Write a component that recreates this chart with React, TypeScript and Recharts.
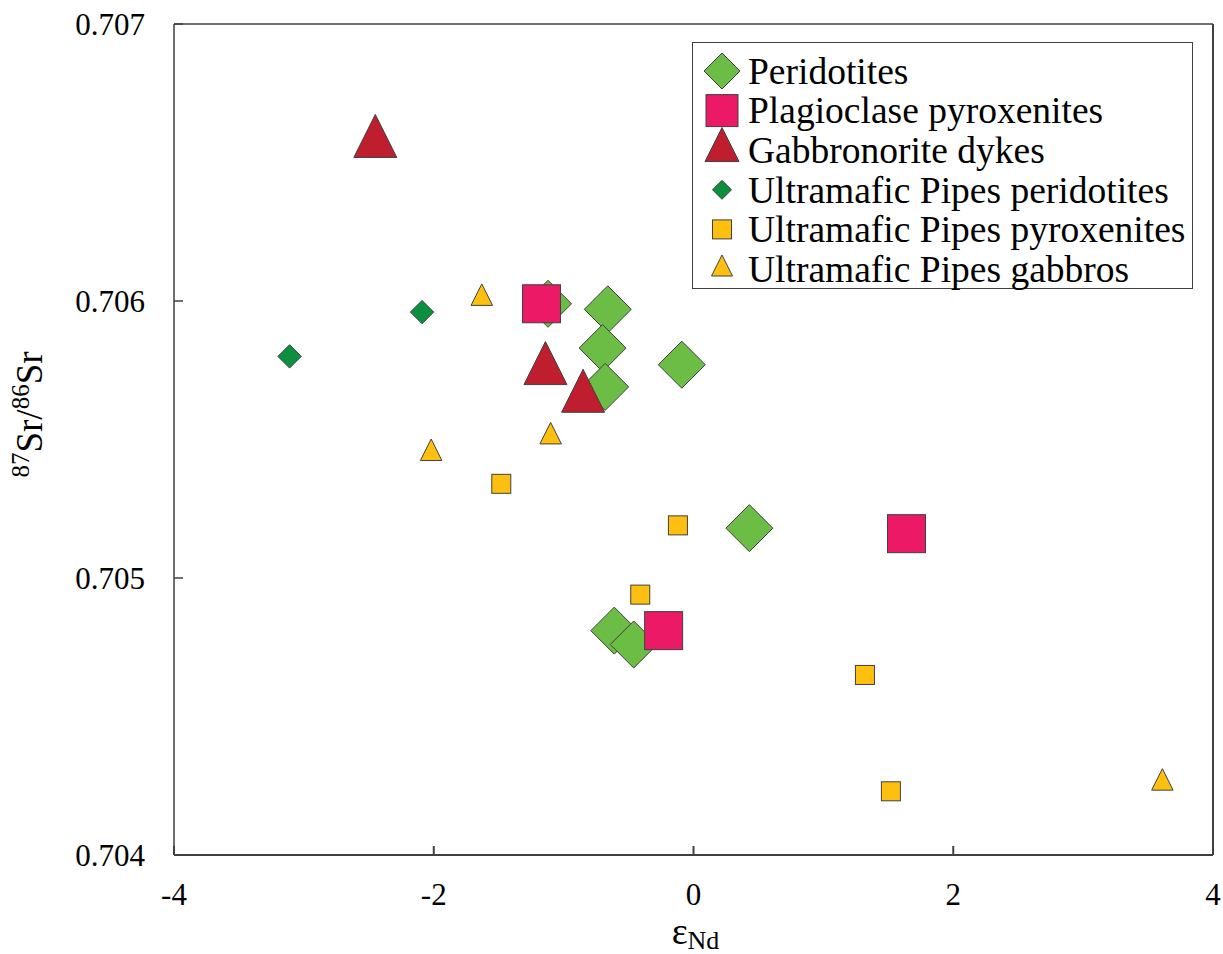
import React from "react";
import {
  ScatterChart,
  Scatter,
  XAxis,
  YAxis,
  ReferenceLine,
  Legend,
} from "recharts";

// εNd vs 87Sr/86Sr, one array per rock group
const peridotites = [
  { x: -1.12, y: 0.70599 },
  { x: -0.66, y: 0.70597 },
  { x: -0.7, y: 0.70583 },
  { x: -0.68, y: 0.70569 },
  { x: -0.09, y: 0.70577 },
  { x: 0.43, y: 0.70518 },
  { x: -0.61, y: 0.70481 },
  { x: -0.46, y: 0.70476 },
];

const plagPyroxenites = [
  { x: -1.17, y: 0.70599 },
  { x: -0.23, y: 0.70481 },
  { x: 1.64, y: 0.70516 },
];

const gabbronoriteDykes = [
  { x: -2.45, y: 0.70657 },
  { x: -1.14, y: 0.70575 },
  { x: -0.85, y: 0.70565 },
];

const upPeridotites = [
  { x: -3.11, y: 0.7058 },
  { x: -2.09, y: 0.70596 },
];

const upPyroxenites = [
  { x: -1.48, y: 0.70534 },
  { x: -0.12, y: 0.70519 },
  { x: -0.41, y: 0.70494 },
  { x: 1.32, y: 0.70465 },
  { x: 1.52, y: 0.70423 },
];

const upGabbros = [
  { x: -1.63, y: 0.70601 },
  { x: -1.1, y: 0.70551 },
  { x: -2.02, y: 0.70545 },
  { x: 3.61, y: 0.70426 },
];

const xTicks = [-4, -2, 0, 2, 4];
const yTicks = [0.704, 0.705, 0.706, 0.707];

const FONT = "'Liberation Serif', 'Times New Roman', serif";
const EDGE = "#404040";

type Kind = "diamond" | "square" | "triangle";

// marker geometry: s = half diagonal (diamond), side (square), width (triangle)
function Marker({ kind, s, fill, cx, cy }: { kind: Kind; s: number; fill: string; cx: number; cy: number }) {
  if (kind === "diamond") {
    const pts = `${cx},${cy - s} ${cx + s},${cy} ${cx},${cy + s} ${cx - s},${cy}`;
    return <polygon points={pts} fill={fill} stroke={EDGE} strokeWidth={1} />;
  }
  if (kind === "square") {
    return <rect x={cx - s / 2} y={cy - s / 2} width={s} height={s} fill={fill} stroke={EDGE} strokeWidth={1} />;
  }
  const h = s;
  const pts = `${cx},${cy - (2 * h) / 3} ${cx + s / 2},${cy + h / 3} ${cx - s / 2},${cy + h / 3}`;
  return <polygon points={pts} fill={fill} stroke={EDGE} strokeWidth={1} />;
}

const series = [
  { name: "Peridotites", data: peridotites, kind: "diamond" as Kind, s: 23.5, ls: 18, fill: "#6bbd45" },
  { name: "Plagioclase pyroxenites", data: plagPyroxenites, kind: "square" as Kind, s: 38, ls: 32, fill: "#ec1a66" },
  { name: "Gabbronorite dykes", data: gabbronoriteDykes, kind: "triangle" as Kind, s: 43, ls: 34, fill: "#bf1e2e" },
  { name: "Ultramafic Pipes peridotites", data: upPeridotites, kind: "diamond" as Kind, s: 11.7, ls: 9.5, fill: "#0c9040" },
  { name: "Ultramafic Pipes pyroxenites", data: upPyroxenites, kind: "square" as Kind, s: 19, ls: 19, fill: "#fdc010" },
  { name: "Ultramafic Pipes gabbros", data: upGabbros, kind: "triangle" as Kind, s: 21.5, ls: 21, fill: "#fdc010" },
];

function LegendBox() {
  const rowH = 39.6;
  return (
    <div style={{ width: 501, height: 247, boxSizing: "border-box", border: `1px solid ${EDGE}`, background: "#fff" }}>
      <svg width={499} height={245} style={{ overflow: "visible" }}>
        {series.map((d, i) => {
          const cy = 28 + i * rowH;
          return (
            <g key={d.name}>
              <Marker kind={d.kind} s={d.ls} fill={d.fill} cx={29} cy={cy} />
              <text x={55} y={cy} dy="0.34em" fontFamily={FONT} fontSize={37.5} fill="#000">
                {d.name}
              </text>
            </g>
          );
        })}
      </svg>
    </div>
  );
}

function YTitle(props: any) {
  const { viewBox } = props;
  const x = viewBox.x + 34;
  const y = viewBox.y + viewBox.height / 2 - 25;
  return (
    <text transform={`rotate(-90 ${x} ${y})`} x={x} y={y} textAnchor="middle" fontFamily={FONT} fontSize={37} fill="#000">
      <tspan fontSize={25} dy={-13}>87</tspan>
      <tspan dy={13}>Sr/</tspan>
      <tspan fontSize={25} dy={-13}>86</tspan>
      <tspan dy={13}>Sr</tspan>
    </text>
  );
}

function XTitle(props: any) {
  const { viewBox } = props;
  const x = viewBox.x + viewBox.width / 2 + 2;
  const y = viewBox.y + 89;
  return (
    <text x={x} y={y} textAnchor="middle" fontFamily={FONT} fontSize={38} fill="#000">
      ε<tspan fontSize={26} dy={5}>Nd</tspan>
    </text>
  );
}

export default function App() {
  const tick = { fill: "#000", fontSize: 31, fontFamily: FONT };
  return (
    <>
      <style>{`body { margin: 0; } .recharts-surface { overflow: visible; }`}</style>
      <ScatterChart width={1223} height={954} margin={{ top: 24, right: 10, bottom: 0, left: 8 }}>
        <XAxis
          type="number"
          dataKey="x"
          domain={[-4, 4]}
          ticks={xTicks}
          height={99}
          stroke={EDGE}
          strokeWidth={2}
          tickSize={-9}
          tickMargin={37}
          tick={tick}
          label={<XTitle />}
        />
        <YAxis
          type="number"
          dataKey="y"
          domain={[0.704, 0.707]}
          ticks={yTicks}
          width={166}
          stroke={EDGE}
          strokeWidth={1.5}
          tickSize={-9}
          tickMargin={38}
          tick={tick}
          tickFormatter={(v: number) => v.toFixed(3)}
          label={<YTitle />}
        />
        <ReferenceLine y={0.707} stroke={EDGE} strokeWidth={1.5} />
        <ReferenceLine x={4} stroke={EDGE} strokeWidth={2} />
        <Legend
          layout="vertical"
          align="center"
          verticalAlign="middle"
          wrapperStyle={{ left: 692, top: 42, width: 501, height: 247 }}
          content={() => <LegendBox />}
        />
        {series.map((d) => (
          <Scatter
            key={d.name}
            name={d.name}
            data={d.data}
            isAnimationActive={false}
            shape={(p: any) => <Marker kind={d.kind} s={d.s} fill={d.fill} cx={p.cx} cy={p.cy} />}
          />
        ))}
      </ScatterChart>
    </>
  );
}
